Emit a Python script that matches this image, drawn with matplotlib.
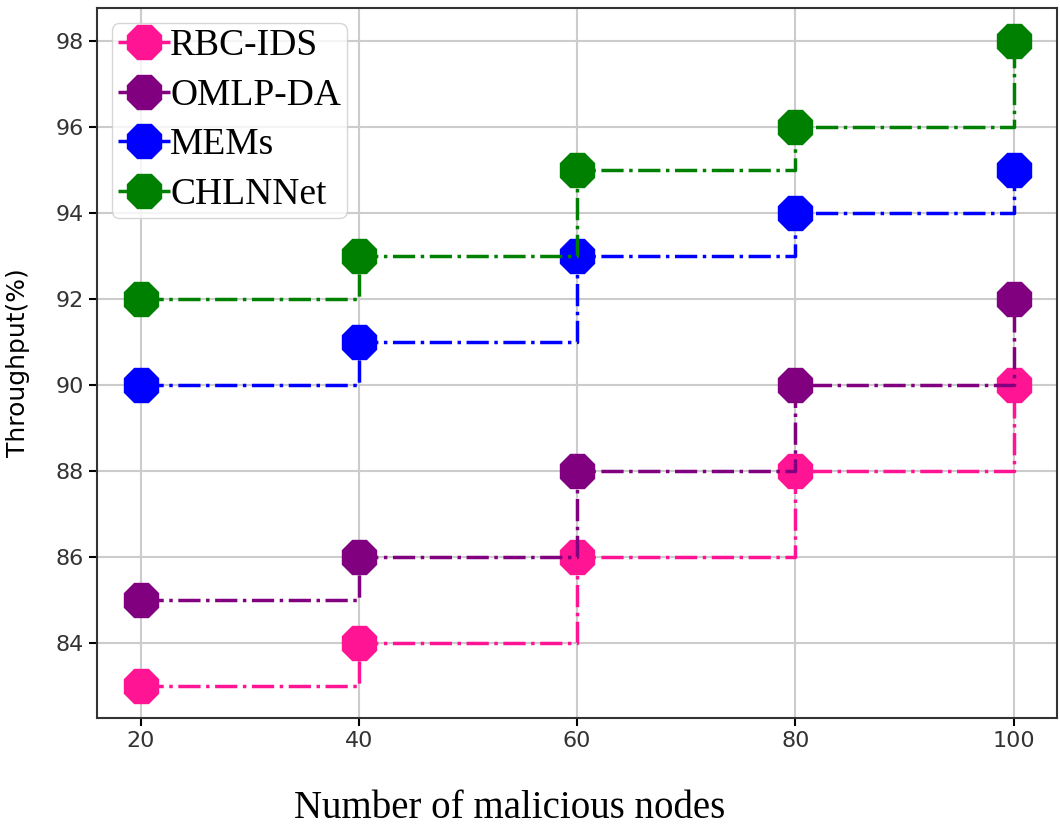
import matplotlib.pyplot as plt

nodes = [20, 40, 60, 80, 100]
rbc_ids = [83, 84, 86, 88, 90]
omlp_da = [85, 86, 88, 90, 92]
mems = [90, 91, 93, 94, 95]
chlnnet = [92, 93, 95, 96, 98]

series = [
    ("RBC-IDS", rbc_ids, "deeppink"),
    ("OMLP-DA", omlp_da, "purple"),
    ("MEMs", mems, "blue"),
    ("CHLNNet", chlnnet, "green"),
]

fig = plt.figure(figsize=(10.6, 8.26), dpi=100)
ax = fig.add_axes([0.0915, 0.131, 0.906, 0.859])

for name, vals, col in series:
    ax.step(nodes, vals, where="post", linestyle="-.", color=col, linewidth=2.5,
            marker="8", markersize=26, label=name)

ax.set_xticks(nodes)
ax.set_yticks(range(84, 99, 2))
ax.tick_params(axis="both", labelsize=16, length=6, width=1.5, labelcolor="#333333")
for s in ax.spines.values():
    s.set_linewidth(1.5)
    s.set_color("#333333")
ax.grid(True, color="#cccccc", linewidth=1.5)
ax.set_axisbelow(True)

ax.set_xlabel("Number of malicious nodes", fontsize=28, family="Liberation Serif")
ax.xaxis.set_label_coords(0.481, 0.044, transform=fig.transFigure)
ax.set_ylabel("Throughput(%)", fontsize=18)
ax.yaxis.set_label_coords(-0.07, 0.5)

ax.legend(loc="upper left", prop={"family": "Liberation Serif", "size": 27},
          handlelength=1.4, handletextpad=0.0, labelspacing=0.4,
          borderaxespad=0.4, borderpad=0.15, framealpha=0.8)

fig.savefig("out.png", dpi=100)
